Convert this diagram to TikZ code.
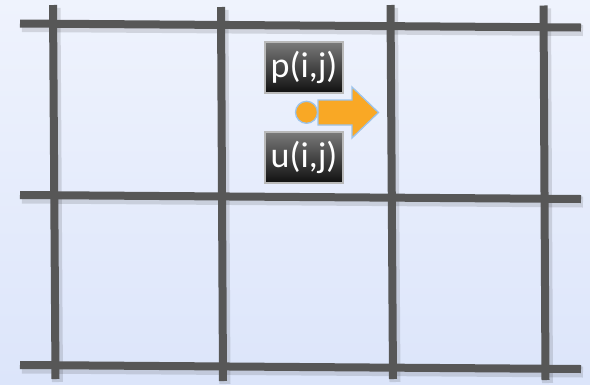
\documentclass[tikz,border=0pt]{standalone}
\usepackage{fontspec}
\setmainfont{Carlito}
\definecolor{bgtop}{HTML}{EFF3FD}
\definecolor{bgbot}{HTML}{DCE5FA}
\definecolor{gridc}{HTML}{575757}
\definecolor{orng}{HTML}{F9A825}
\definecolor{edgeblue}{HTML}{9CC3EA}
\definecolor{boxtop}{HTML}{7A7A7A}
\definecolor{boxbot}{HTML}{101010}
\begin{document}
\begin{tikzpicture}[x=1pt,y=-1pt,
  gridline/.style={draw=gridc,line width=8pt},
  gridshadow/.style={draw=black,opacity=0.12,line width=11pt},
  labelbox/.style={draw=gray!55,line width=1.2pt,top color=boxtop,bottom color=boxbot,
    text=white,minimum width=78pt,minimum height=51pt,inner sep=0pt,
    font=\fontsize{36}{40}\selectfont}]
\fill[top color=bgtop,bottom color=bgbot] (0,0) rectangle (590,384);
\useasboundingbox (0,0) rectangle (590,384);
% shadows
\begin{scope}[shift={(2,3)}]
\draw[gridshadow] (20,23.5) -- (581,27.5);
\draw[gridshadow] (20,195) -- (581,199);
\draw[gridshadow] (20,365) -- (581,369);
\draw[gridshadow] (53,5) -- (55.5,379);
\draw[gridshadow] (221,7) -- (223,381);
\draw[gridshadow] (390.5,5) -- (393,379);
\draw[gridshadow] (543.5,5.5) -- (545.5,380);
\end{scope}
% grid
\draw[gridline] (20,23.5) -- (581,27.5);
\draw[gridline] (20,195) -- (581,199);
\draw[gridline] (20,365) -- (581,369);
\draw[gridline] (53,5) -- (55.5,379);
\draw[gridline] (221,7) -- (223,381);
\draw[gridline] (390.5,5) -- (393,379);
\draw[gridline] (543.5,5.5) -- (545.5,380);
% labels
\node[labelbox] (p) at (304,67.5) {p(i,j)};
\node[labelbox] (u) at (304,157.5) {u(i,j)};
% arrow
\fill[orng,draw=edgeblue,line width=1.3pt]
  (318,100) -- (352,100) -- (352,87) -- (378.5,112.5) -- (352,138) -- (352,125) -- (318,125) -- cycle;
\node[circle,fill=orng,draw=edgeblue,line width=1.3pt,minimum size=22pt,inner sep=0pt] (c) at (306.5,112.3) {};
\end{tikzpicture}
\end{document}
